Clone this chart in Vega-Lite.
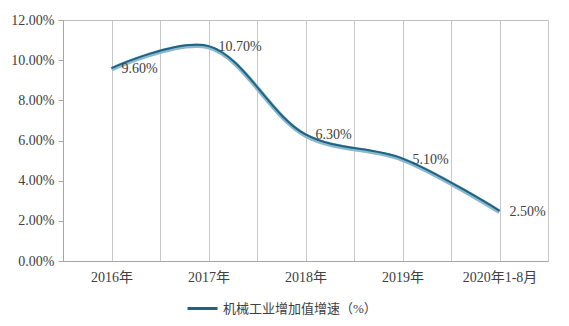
{
  "$schema": "https://vega.github.io/schema/vega-lite/v6.json",
  "autosize": {"type": "none"},
  "padding": {"left": 63, "top": 20, "right": 21, "bottom": 65},
  "width": 485,
  "height": 241,
  "background": "white",
  "config": {
    "view": {"stroke": "#bfbfbf", "strokeWidth": 1},
    "font": "Liberation Serif, Noto Sans CJK SC",
    "axis": {"labelFont": "Liberation Serif, Noto Sans CJK SC", "labelColor": "#404040", "labelFontSize": 14}
  },
  "data": {
    "values": [
      {"year": 2016, "value": 0.096, "series": "机械工业增加值增速（%）"},
      {"year": 2017, "value": 0.107, "series": "机械工业增加值增速（%）"},
      {"year": 2018, "value": 0.063, "series": "机械工业增加值增速（%）"},
      {"year": 2019, "value": 0.051, "series": "机械工业增加值增速（%）"},
      {"year": 2020, "value": 0.025, "series": "机械工业增加值增速（%）"}
    ]
  },
  "encoding": {
    "x": {
      "field": "year", "type": "quantitative",
      "scale": {"domain": [2015.5, 2020.5], "nice": false, "zero": false},
      "axis": {
        "title": null,
        "values": [2015.5, 2016, 2016.5, 2017, 2017.5, 2018, 2018.5, 2019, 2019.5, 2020, 2020.5],
        "labelExpr": "datum.value == 2020 ? '2020年1-8月' : (datum.value % 1 == 0 ? datum.value + '年' : '')",
        "grid": true, "gridColor": "#c8c8c8", "gridWidth": 1,
        "ticks": false, "domainColor": "#a6a6a6", "labelPadding": 9, "labelFlush": false, "labelOverlap": false
      }
    },
    "y": {
      "field": "value", "type": "quantitative",
      "scale": {"domain": [0, 0.12], "nice": false},
      "axis": {
        "title": null,
        "values": [0, 0.02, 0.04, 0.06, 0.08, 0.1, 0.12],
        "format": ".2%",
        "grid": false, "ticks": true, "tickSize": 5, "tickColor": "#a6a6a6",
        "domainColor": "#a6a6a6", "labelPadding": 4
      }
    }
  },
  "layer": [
    {
      "mark": {"type": "line", "interpolate": "catmull-rom", "strokeWidth": 4.5, "color": "#8ab8cc", "yOffset": 1},
      "encoding": {}
    },
    {
      "mark": {"type": "line", "interpolate": "catmull-rom", "strokeWidth": 2},
      "encoding": {
        "color": {
          "field": "series", "type": "nominal",
          "scale": {"range": ["#1f6284"]},
          "legend": {
            "title": null, "orient": "none", "legendX": 123, "legendY": 272,
            "symbolType": "stroke", "symbolSize": 900, "symbolStrokeWidth": 3,
            "labelFontSize": 13, "labelColor": "#404040", "labelFont": "Liberation Serif, Noto Sans CJK SC"
          }
        }
      }
    },
    {
      "mark": {"type": "text", "align": "left", "baseline": "middle", "dx": 10, "dy": 1, "fontSize": 14, "color": "#404040"},
      "encoding": {"text": {"field": "value", "type": "quantitative", "format": ".2%"}}
    }
  ]
}
